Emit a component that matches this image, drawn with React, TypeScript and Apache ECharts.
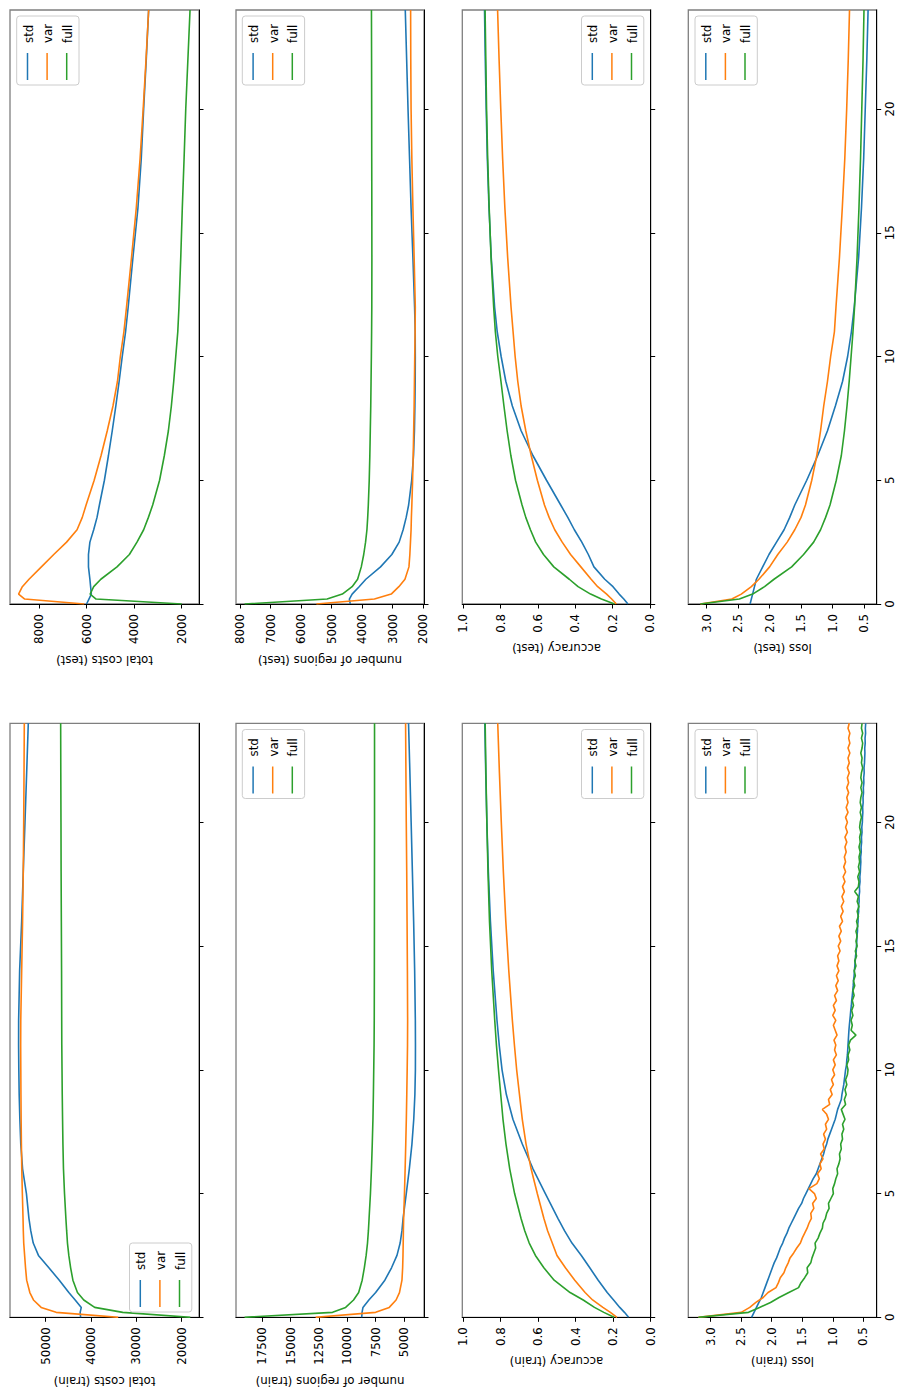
import React, { useEffect, useRef } from "react";
import * as echarts from "echarts";

const SERIES_NAMES = ["std", "var", "full"];
const SERIES_COLORS = ["#1f77b4", "#ff7f0e", "#2ca02c"];

// epochs for the smooth curves
const EPOCHS = [0, 0.2, 0.4, 0.7, 1, 1.5, 2, 2.5, 3, 3.5, 4, 5, 6, 7, 8, 9, 10, 11, 12, 14, 16, 18, 20, 22, 24];
const EPOCH_TICKS = [0, 5, 10, 15, 20];

// ---- test ----
const COST_TEST_STD = [6000, 5900, 5800, 5830, 5860, 5920, 5920, 5860, 5700, 5560, 5460, 5250, 5080, 4920, 4770, 4630, 4500, 4360, 4250, 4050, 3840, 3700, 3600, 3490, 3390];
const COST_TEST_VAR = [6100, 8600, 8858, 8700, 8420, 7900, 7380, 6840, 6400, 6180, 6020, 5680, 5390, 5130, 4890, 4700, 4580, 4430, 4320, 4110, 3910, 3750, 3620, 3500, 3390];
const COST_TEST_FULL = [2000, 5600, 5850, 5700, 5400, 4720, 4200, 3880, 3600, 3400, 3220, 2930, 2730, 2560, 2435, 2335, 2250, 2165, 2115, 2040, 1975, 1900, 1830, 1740, 1650];

const REG_TEST_STD = [4390, 4420, 4330, 4100, 3880, 3400, 3030, 2790, 2660, 2560, 2480, 2380, 2320, 2290, 2275, 2265, 2262, 2265, 2285, 2340, 2400, 2450, 2500, 2545, 2590];
const REG_TEST_VAR = [5500, 3600, 3050, 2800, 2600, 2470, 2440, 2420, 2400, 2390, 2375, 2350, 2330, 2315, 2300, 2290, 2280, 2268, 2262, 2300, 2340, 2375, 2400, 2410, 2415];
const REG_TEST_FULL = [7850, 5150, 4650, 4330, 4150, 4030, 3950, 3890, 3845, 3820, 3800, 3770, 3750, 3735, 3720, 3710, 3700, 3692, 3686, 3683, 3685, 3688, 3690, 3693, 3697];

const ACC_TEST_STD = [0.118, 0.14, 0.165, 0.198, 0.242, 0.3, 0.33, 0.365, 0.405, 0.44, 0.478, 0.554, 0.627, 0.69, 0.737, 0.772, 0.797, 0.818, 0.832, 0.85, 0.862, 0.871, 0.877, 0.882, 0.886];
const ACC_TEST_VAR = [0.18, 0.205, 0.232, 0.28, 0.315, 0.37, 0.425, 0.47, 0.51, 0.54, 0.565, 0.603, 0.636, 0.665, 0.69, 0.708, 0.722, 0.733, 0.744, 0.762, 0.777, 0.789, 0.799, 0.808, 0.816];
const ACC_TEST_FULL = [0.19, 0.26, 0.318, 0.385, 0.432, 0.515, 0.57, 0.612, 0.64, 0.665, 0.685, 0.72, 0.745, 0.765, 0.782, 0.798, 0.815, 0.828, 0.837, 0.851, 0.861, 0.869, 0.875, 0.879, 0.883];

const LOSS_TEST_STD = [2.31, 2.29, 2.27, 2.24, 2.21, 2.11, 2.01, 1.89, 1.77, 1.68, 1.6, 1.41, 1.235, 1.08, 0.955, 0.84, 0.76, 0.7, 0.655, 0.585, 0.54, 0.505, 0.48, 0.455, 0.435];
const LOSS_TEST_VAR = [3.1, 2.6, 2.45, 2.29, 2.17, 2.0, 1.87, 1.72, 1.6, 1.5, 1.43, 1.33, 1.25, 1.19, 1.14, 1.08, 1.03, 0.97, 0.945, 0.89, 0.845, 0.805, 0.775, 0.75, 0.73];
const LOSS_TEST_FULL = [3.1, 2.48, 2.27, 2.08, 1.93, 1.65, 1.46, 1.3, 1.19, 1.11, 1.04, 0.94, 0.86, 0.81, 0.77, 0.735, 0.705, 0.675, 0.65, 0.61, 0.58, 0.555, 0.535, 0.515, 0.5];

// ---- train ----
const COST_TRAIN_STD = [42300, 42400, 42150, 43500, 44900, 47000, 49300, 51600, 52750, 53300, 53700, 54250, 55100, 55500, 55700, 55850, 55930, 55980, 55970, 55750, 55300, 54950, 54570, 54200, 53840];
const COST_TRAIN_VAR = [34000, 47700, 51000, 52700, 53500, 54200, 54450, 54650, 54850, 54940, 55000, 55150, 55280, 55360, 55420, 55460, 55490, 55520, 55500, 55300, 55100, 54950, 54850, 54780, 54720];
const COST_TRAIN_FULL = [18100, 33000, 39200, 41600, 43000, 44000, 44500, 44900, 45200, 45380, 45550, 45850, 46080, 46200, 46280, 46350, 46400, 46450, 46470, 46500, 46550, 46600, 46630, 46670, 46700];

const REG_TRAIN_STD = [8730, 8700, 8620, 8100, 7500, 6690, 6100, 5620, 5340, 5180, 5080, 4800, 4530, 4300, 4140, 4040, 3995, 3990, 4000, 4060, 4150, 4260, 4370, 4480, 4600];
const REG_TRAIN_VAR = [12800, 7500, 6300, 5700, 5400, 5180, 5120, 5090, 5070, 5055, 5030, 4960, 4900, 4845, 4795, 4755, 4720, 4690, 4680, 4700, 4730, 4760, 4800, 4830, 4860];
const REG_TRAIN_FULL = [19066, 11300, 10150, 9450, 9000, 8690, 8500, 8340, 8220, 8140, 8080, 7960, 7870, 7800, 7740, 7700, 7670, 7640, 7625, 7615, 7610, 7605, 7600, 7600, 7600];

const ACC_TRAIN_STD = [0.118, 0.14, 0.165, 0.198, 0.232, 0.28, 0.325, 0.37, 0.42, 0.46, 0.495, 0.562, 0.628, 0.685, 0.735, 0.77, 0.793, 0.808, 0.82, 0.84, 0.855, 0.866, 0.874, 0.88, 0.885];
const ACC_TRAIN_VAR = [0.18, 0.215, 0.255, 0.31, 0.35, 0.405, 0.455, 0.5, 0.525, 0.55, 0.57, 0.605, 0.638, 0.665, 0.685, 0.7, 0.715, 0.727, 0.738, 0.757, 0.773, 0.786, 0.797, 0.807, 0.816];
const ACC_TRAIN_FULL = [0.195, 0.25, 0.3, 0.36, 0.43, 0.515, 0.57, 0.615, 0.648, 0.672, 0.692, 0.726, 0.752, 0.772, 0.788, 0.8, 0.812, 0.823, 0.832, 0.848, 0.86, 0.868, 0.874, 0.879, 0.883];

// noisy train loss, sampled every 0.2 epoch
const LOSS_TRAIN_EPOCHS = [
  0, 0.2, 0.4, 0.6, 0.8, 1, 1.2, 1.4, 1.6, 1.8,
  2, 2.2, 2.4, 2.6, 2.8, 3, 3.2, 3.4, 3.6, 3.8,
  4, 4.2, 4.4, 4.6, 4.8, 5, 5.2, 5.4, 5.6, 5.8,
  6, 6.2, 6.4, 6.6, 6.8, 7, 7.2, 7.4, 7.6, 7.8,
  8, 8.2, 8.4, 8.6, 8.8, 9, 9.2, 9.4, 9.6, 9.8,
  10, 10.2, 10.4, 10.6, 10.8, 11, 11.2, 11.4, 11.6, 11.8,
  12, 12.2, 12.4, 12.6, 12.8, 13, 13.2, 13.4, 13.6, 13.8,
  14, 14.2, 14.4, 14.6, 14.8, 15, 15.2, 15.4, 15.6, 15.8,
  16, 16.2, 16.4, 16.6, 16.8, 17, 17.2, 17.4, 17.6, 17.8,
  18, 18.2, 18.4, 18.6, 18.8, 19, 19.2, 19.4, 19.6, 19.8,
  20, 20.2, 20.4, 20.6, 20.8, 21, 21.2, 21.4, 21.6, 21.8,
  22, 22.2, 22.4, 22.6, 22.8, 23, 23.2, 23.4, 23.6, 23.8,
  24,
];
const LOSS_TRAIN_STD = [
  2.33, 2.29, 2.25, 2.21, 2.17, 2.14, 2.11, 2.08, 2.05, 2.02,
  1.99, 1.96, 1.92, 1.89, 1.86, 1.82, 1.79, 1.75, 1.72, 1.68,
  1.64, 1.6, 1.56, 1.51, 1.48, 1.44, 1.4, 1.36, 1.32, 1.27,
  1.24, 1.21, 1.18, 1.15, 1.13, 1.1, 1.08, 1.05, 1.02, 0.99,
  0.96, 0.94, 0.92, 0.89, 0.86, 0.85, 0.835, 0.82, 0.81, 0.8,
  0.79, 0.775, 0.77, 0.76, 0.755, 0.75, 0.745, 0.74, 0.735, 0.728,
  0.72, 0.712, 0.705, 0.695, 0.69, 0.68, 0.672, 0.665, 0.66, 0.65,
  0.645, 0.638, 0.632, 0.627, 0.615, 0.612, 0.606, 0.603, 0.595, 0.594,
  0.585, 0.586, 0.575, 0.578, 0.568, 0.57, 0.56, 0.563, 0.553, 0.556,
  0.548, 0.545, 0.54, 0.543, 0.533, 0.536, 0.527, 0.53, 0.52, 0.524,
  0.515, 0.513, 0.507, 0.51, 0.502, 0.504, 0.496, 0.499, 0.49, 0.493,
  0.485, 0.488, 0.48, 0.477, 0.473, 0.476, 0.468, 0.471, 0.462, 0.466,
  0.46,
];
const LOSS_TRAIN_VAR = [
  3.2, 2.5, 2.36, 2.26, 2.14, 2.06, 1.93, 1.89, 1.86, 1.8,
  1.77, 1.73, 1.7, 1.64, 1.59, 1.53, 1.5, 1.46, 1.42, 1.39,
  1.35, 1.36, 1.31, 1.33, 1.27, 1.3, 1.39, 1.26, 1.22, 1.25,
  1.19, 1.21, 1.16, 1.2, 1.14, 1.16, 1.12, 1.15, 1.1, 1.12,
  1.07, 1.1, 1.17, 1.05, 1.07, 1.01, 1.04, 0.99, 1.02, 0.97,
  1.0, 0.96, 0.99, 0.94, 0.97, 0.95, 0.98, 0.93, 0.96, 0.99,
  0.95, 1.0, 0.96, 0.99, 0.94, 0.97, 0.92, 0.95, 0.91, 0.94,
  0.9, 0.93, 0.9, 0.92, 0.88, 0.91, 0.87, 0.9, 0.86, 0.89,
  0.84, 0.87, 0.83, 0.86, 0.82, 0.85, 0.81, 0.84, 0.8, 0.83,
  0.79, 0.82, 0.79, 0.81, 0.78, 0.8, 0.77, 0.8, 0.76, 0.79,
  0.76, 0.79, 0.75, 0.78, 0.75, 0.77, 0.74, 0.77, 0.74, 0.76,
  0.73, 0.76, 0.73, 0.75, 0.72, 0.75, 0.72, 0.74, 0.72, 0.75,
  0.73,
];
const LOSS_TRAIN_FULL = [
  3.2, 2.38, 2.2, 2.02, 1.88, 1.72, 1.56, 1.52, 1.46, 1.41,
  1.42, 1.36, 1.34, 1.31, 1.28, 1.29, 1.24, 1.21, 1.17, 1.16,
  1.12, 1.1, 1.06, 1.07, 1.03, 0.99, 1.0, 0.97, 0.95, 0.92,
  0.93, 0.9, 0.88, 0.89, 0.86, 0.87, 0.84, 0.85, 0.82, 0.84,
  0.8, 0.83, 0.86, 0.79, 0.81, 0.78, 0.8, 0.77, 0.79, 0.76,
  0.75, 0.77, 0.74, 0.75, 0.72, 0.74, 0.71, 0.62, 0.7, 0.68,
  0.7, 0.67, 0.69, 0.66, 0.68, 0.65, 0.67, 0.64, 0.66, 0.63,
  0.65, 0.62, 0.64, 0.61, 0.63, 0.6, 0.62, 0.6, 0.62, 0.59,
  0.61, 0.58, 0.6, 0.57, 0.6, 0.58, 0.64, 0.58, 0.57, 0.59,
  0.56, 0.58, 0.56, 0.57, 0.55, 0.57, 0.55, 0.56, 0.54, 0.56,
  0.55, 0.53, 0.55, 0.53, 0.55, 0.54, 0.52, 0.54, 0.52, 0.54,
  0.53, 0.51, 0.53, 0.52, 0.54, 0.52, 0.51, 0.53, 0.51, 0.53,
  0.52,
];

// tick labels
const COST_TEST_TICKS = [2000, 4000, 6000, 8000];
const REG_TEST_TICKS = [2000, 3000, 4000, 5000, 6000, 7000, 8000];
const ACC_TICKS = [0, 0.2, 0.4, 0.6, 0.8, 1.0];
const LOSS_TICKS = [0.5, 1.0, 1.5, 2.0, 2.5, 3.0];
const COST_TRAIN_TICKS = [20000, 30000, 40000, 50000];
const REG_TRAIN_TICKS = [5000, 7500, 10000, 12500, 15000, 17500];

const FONT = "DejaVu Sans";
const FS = 11.8;
const ROW_TOP = [10, 723.3];
const ROW_H = 594;

type Panel = {
  name: string;
  left: number;
  width: number;
  row: number;
  min: number;
  max: number;
  ticks: number[];
  dec: number;
  gap: number;
  epochs: number[];
  series: number[][];
  legend: [number, number];
  epochLabels: boolean;
};

const PANELS: Panel[] = [
  { name: "total costs (test)", left: 10, width: 189, row: 0, min: 1273, max: 9219, ticks: COST_TEST_TICKS, dec: 0, gap: 50, epochs: EPOCHS, series: [COST_TEST_STD, COST_TEST_VAR, COST_TEST_FULL], legend: [16.7, 16], epochLabels: false },
  { name: "number of regions (test)", left: 236, width: 188, row: 0, min: 1977, max: 8131, ticks: REG_TEST_TICKS, dec: 0, gap: 50, epochs: EPOCHS, series: [REG_TEST_STD, REG_TEST_VAR, REG_TEST_FULL], legend: [242.3, 16], epochLabels: false },
  { name: "accuracy (test)", left: 462.3, width: 188.4, row: 0, min: -0.004, max: 1.005, ticks: ACC_TICKS, dec: 1, gap: 38, epochs: EPOCHS, series: [ACC_TEST_STD, ACC_TEST_VAR, ACC_TEST_FULL], legend: [581.5, 16], epochLabels: false },
  { name: "loss (test)", left: 688.3, width: 188.4, row: 0, min: 0.298, max: 3.292, ticks: LOSS_TICKS, dec: 1, gap: 38, epochs: EPOCHS, series: [LOSS_TEST_STD, LOSS_TEST_VAR, LOSS_TEST_FULL], legend: [695, 16], epochLabels: true },
  { name: "total costs (train)", left: 10, width: 189, row: 1, min: 16184, max: 57875, ticks: COST_TRAIN_TICKS, dec: 0, gap: 58, epochs: EPOCHS, series: [COST_TRAIN_STD, COST_TRAIN_VAR, COST_TRAIN_FULL], legend: [129.5, 1243], epochLabels: false },
  { name: "number of regions (train)", left: 236, width: 188, row: 1, min: 3236, max: 19820, ticks: REG_TRAIN_TICKS, dec: 0, gap: 58, epochs: EPOCHS, series: [REG_TRAIN_STD, REG_TRAIN_VAR, REG_TRAIN_FULL], legend: [242.3, 729.5], epochLabels: false },
  { name: "accuracy (train)", left: 462.3, width: 188.4, row: 1, min: 0, max: 1.005, ticks: ACC_TICKS, dec: 1, gap: 38, epochs: EPOCHS, series: [ACC_TRAIN_STD, ACC_TRAIN_VAR, ACC_TRAIN_FULL], legend: [581.5, 729.5], epochLabels: false },
  { name: "loss (train)", left: 688.3, width: 188.4, row: 1, min: 0.28, max: 3.367, ticks: LOSS_TICKS, dec: 1, gap: 38, epochs: LOSS_TRAIN_EPOCHS, series: [LOSS_TRAIN_STD, LOSS_TRAIN_VAR, LOSS_TRAIN_FULL], legend: [695, 729.5], epochLabels: true },
];

function buildLegend(x0: number, y0: number): any[] {
  const els: any[] = [
    {
      type: "rect",
      z: 100,
      shape: { x: x0, y: y0, width: 62.3, height: 69, r: 3 },
      style: { fill: "rgba(255,255,255,0.8)", stroke: "#cccccc", lineWidth: 1 },
    },
  ];
  SERIES_NAMES.forEach((n, i) => {
    const lx = x0 + 10.8 + i * 19.6;
    els.push({
      type: "line",
      z: 101,
      shape: { x1: lx, y1: y0 + 37, x2: lx, y2: y0 + 64 },
      style: { stroke: SERIES_COLORS[i], lineWidth: 1.5 },
    });
    els.push({
      type: "text",
      z: 101,
      x: lx + 1,
      y: y0 + 27,
      rotation: Math.PI / 2,
      style: {
        text: n,
        fill: "#000",
        fontSize: FS,
        fontFamily: FONT,
        align: "left",
        verticalAlign: "middle",
      },
    });
  });
  return els;
}

export default function App() {
  const ref = useRef<HTMLDivElement>(null);
  useEffect(() => {
    if (!ref.current) return;
    const chart = echarts.init(ref.current, undefined, { renderer: "svg" });
    const grid: any[] = [];
    const xAxis: any[] = [];
    const yAxis: any[] = [];
    const series: any[] = [];
    let graphic: any[] = [];
    PANELS.forEach((p, pi) => {
      grid.push({
        left: p.left,
        top: ROW_TOP[p.row],
        width: p.width,
        height: ROW_H,
        show: true,
        borderColor: "#7f7f7f",
        borderWidth: 1.3,
        backgroundColor: "transparent",
        containLabel: false,
        outerBoundsMode: "none",
      });
      xAxis.push({
        type: "value",
        gridIndex: pi,
        inverse: true,
        min: p.min,
        max: p.max,
        position: "bottom",
        name: p.name,
        nameLocation: "middle",
        nameRotate: 180,
        nameGap: p.gap,
        nameTextStyle: { fontFamily: FONT, fontSize: FS, color: "#000" },
        axisLine: { show: true, onZero: false, lineStyle: { color: "#000", width: 1 } },
        axisTick: { show: true, length: 4.5, lineStyle: { color: "#000", width: 1 }, customValues: p.ticks },
        axisLabel: {
          show: true,
          rotate: 90,
          margin: 10,
          fontFamily: FONT,
          fontSize: FS,
          color: "#000",
          customValues: p.ticks,
          formatter: (v: number) => v.toFixed(p.dec),
        },
        splitLine: { show: false },
      });
      yAxis.push({
        type: "value",
        gridIndex: pi,
        min: 0,
        max: 24,
        position: "right",
        axisLine: { show: true, onZero: false, lineStyle: { color: "#000", width: 1 } },
        axisTick: { show: true, length: 4.5, lineStyle: { color: "#000", width: 1 }, customValues: EPOCH_TICKS },
        axisLabel: {
          show: p.epochLabels,
          rotate: 90,
          margin: 8,
          lineHeight: 10,
          fontFamily: FONT,
          fontSize: FS,
          color: "#000",
          customValues: EPOCH_TICKS,
          formatter: (v: number) => String(v),
        },
        splitLine: { show: false },
      });
      p.series.forEach((vals, si) => {
        series.push({
          type: "line",
          name: SERIES_NAMES[si],
          xAxisIndex: pi,
          yAxisIndex: pi,
          data: vals.map((v, i) => [v, p.epochs[i]]),
          showSymbol: false,
          symbol: "none",
          smooth: false,
          clip: true,
          silent: true,
          lineStyle: { color: SERIES_COLORS[si], width: 1.6 },
          itemStyle: { color: SERIES_COLORS[si] },
          z: 2 + si,
        });
      });
      graphic = graphic.concat(buildLegend(p.legend[0], p.legend[1]));
    });
    chart.setOption({
      animation: false,
      backgroundColor: "#ffffff",
      textStyle: { fontFamily: FONT },
      grid,
      xAxis,
      yAxis,
      series,
      graphic,
    });
    return () => chart.dispose();
  }, []);
  return (
    <div
      ref={ref}
      style={{ position: "absolute", left: 0, top: 0, width: 897, height: 1391 }}
    />
  );
}
